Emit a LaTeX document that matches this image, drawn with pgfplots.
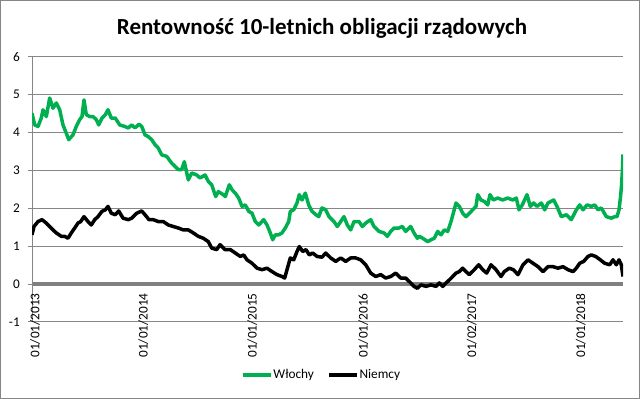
\documentclass[border=0pt]{standalone}
\usepackage{fontspec}
\setmainfont{Carlito}
\usepackage{pgfplots}
\pgfplotsset{compat=1.18}
\definecolor{zielony}{RGB}{0,176,80}
\definecolor{siatka}{RGB}{134,134,134}
\definecolor{os}{RGB}{128,128,128}
\newcommand{\fs}{\fontsize{13.3bp}{16bp}\selectfont}
\begin{document}
\begin{tikzpicture}
\useasboundingbox (0,0) rectangle (640bp,399bp);
\fill[white] (0,0) rectangle (640bp,399bp);
\draw[siatka, line width=1bp] (0.5bp,0.5bp) rectangle (639.5bp,398.5bp);
\node[font=\bfseries\fontsize{23bp}{27bp}\selectfont] at (322bp,371bp) {Rentowność 10-letnich obligacji rządowych};
\begin{axis}[
  at={(32bp,77bp)}, anchor=south west,
  scale only axis, width=591bp, height=265.3bp,
  xmin=0, xmax=591, ymin=-1, ymax=6,
  axis x line*=middle, axis y line*=left,
  hide obscured x ticks=false, hide obscured y ticks=false,
  x axis line style={line width=4.5bp, color=os},
  y axis line style={line width=1bp, color=siatka},
  ytick={-1,0,1,2,3,4,5,6}, yticklabels={-1,0,1,2,3,4,5,6},
  ymajorgrids, major grid style={siatka, line width=1bp},
  ytick style={siatka, line width=1bp},
  tick align=outside, major tick length=4bp,
  xtick={3,111.3,220.3,331.3,439.7,548.7},
  xticklabels={01/01/2013,01/01/2014,01/01/2015,01/01/2016,01/02/2017,01/01/2018},
  xtick style={draw=none},
  x tick label style={rotate=90, anchor=east, font=\fs, inner sep=0pt},
  xticklabel shift=5bp,
  y tick label style={font=\fs, inner sep=0pt, anchor=east},
  yticklabel shift=8bp,
  legend style={at={(rel axis cs:0.489,-0.2)}, anchor=center, draw=none, fill=none,
    legend columns=2, font=\fs, /tikz/every even column/.append style={column sep=12bp},
    nodes={inner sep=1bp}},
  legend image code/.code={\draw[#1] (0bp,0bp) -- (28bp,0bp);},
]
\addplot[zielony, line width=3.5bp, line join=round] coordinates {
(0,4.51)(2.7,4.20)(6,4.16)(9.3,4.38)(11,4.60)(14.3,4.42)(17.7,4.91)(21,4.64)(24.3,4.78)(27.7,4.60)
(31,4.20)(34.3,3.98)(36.7,3.81)(41,3.94)(44.3,4.16)(47.7,4.34)(50,4.42)(52,4.86)(54.3,4.47)(57.7,4.42)
(61,4.42)(64.3,4.34)(66.7,4.20)(70,4.38)(73.3,4.47)(76,4.60)(79.3,4.38)(83.3,4.38)(87.7,4.20)(92.7,4.16)
(96.3,4.12)(99.7,4.20)(103,4.12)(107,4.22)(109.7,4.16)(113,3.94)(116.3,3.89)(119.7,3.81)(123,3.68)(126.3,3.59)
(129.7,3.41)(134.7,3.37)(139.7,3.19)(146.3,3.02)(149.7,3.02)(152.3,3.23)(156.3,2.75)(159.7,2.93)(164.7,2.88)(168,2.80)
(173,2.88)(176.3,2.71)(179.7,2.62)(183.7,2.31)(186.3,2.44)(191.3,2.36)(193.3,2.31)(197.3,2.62)(200,2.49)(203.3,2.40)
(206.7,2.27)(210,2.05)(213.3,2.09)(216.7,1.92)(220,1.87)(223.3,1.65)(226.7,1.56)(231.7,1.70)(235,1.56)(238.3,1.35)
(240.7,1.17)(243.3,1.30)(246.7,1.30)(250,1.35)(253.3,1.48)(256.7,1.65)(258.3,1.92)(261.7,1.96)(265,2.14)(267.3,2.36)
(270,2.22)(273.3,2.40)(276.7,2.09)(280,1.92)(284,1.83)(286.7,1.78)(290,2.01)(293.7,1.96)(297,1.78)(302,1.65)
(305.3,1.52)(308.7,1.65)(312,1.78)(315.3,1.56)(318.7,1.43)(322,1.65)(327,1.65)(330.3,1.52)(333.7,1.61)(338.7,1.70)
(342,1.52)(347,1.39)(352,1.35)(355.3,1.26)(358.7,1.39)(362,1.48)(367,1.48)(370.3,1.52)(373.7,1.39)(378.7,1.52)
(382,1.35)(385.3,1.21)(387.3,1.26)(390.7,1.21)(395.7,1.12)(399,1.17)(402.3,1.21)(405.7,1.39)(409,1.30)(412.3,1.43)
(415.7,1.39)(419,1.65)(421.3,1.87)(424,2.14)(427.3,2.05)(430.7,1.87)(434,1.78)(437.3,1.87)(440.7,1.96)(444,2.05)
(445.7,2.36)(449,2.22)(452.3,2.18)(455.7,2.09)(458,2.36)(461.3,2.22)(465.7,2.27)(470.7,2.22)(475.7,2.27)(480.7,2.22)
(484.3,2.27)(487,1.96)(490.3,2.09)(495,2.36)(498.3,2.05)(501.7,2.14)(505,2.05)(509.3,2.14)(512.7,1.96)(516,2.14)
(521.7,2.22)(525,2.05)(529.3,1.78)(534.3,1.83)(539.3,1.70)(544.3,1.96)(547.7,2.09)(551,1.96)(555,2.09)(559.3,2.05)
(562.7,2.09)(566,1.96)(569.3,2.01)(574.3,1.78)(579.3,1.74)(582.7,1.78)(585,1.78)(587,1.96)(588.5,2.30)(589.5,2.60)
(590.3,2.95)(591,3.42)
};
\addlegendentry{Włochy}
\addplot[black, line width=3.5bp, line join=round] coordinates {
(0,1.30)(2,1.52)(6,1.65)(10,1.70)(14.3,1.61)(17.7,1.52)(21,1.43)(24.3,1.35)(29.3,1.26)(32.7,1.26)
(36,1.21)(39.3,1.35)(42.7,1.48)(46,1.61)(48.7,1.65)(52,1.78)(56,1.65)(59.3,1.56)(62.7,1.70)(66,1.78)
(70,1.92)(73.3,1.96)(76,2.05)(79.3,1.87)(83.3,1.83)(86.7,1.93)(91,1.74)(96.3,1.70)(99.7,1.74)(104.7,1.87)
(109.7,1.93)(113,1.83)(117,1.70)(121.3,1.70)(126.3,1.65)(131.3,1.65)(136.3,1.56)(141.3,1.52)(146.3,1.48)(151.3,1.43)
(156.3,1.43)(161.3,1.35)(166.3,1.26)(171.3,1.21)(176.3,1.12)(179.7,0.95)(184.7,0.91)(188,1.04)(193,0.91)(198.3,0.91)
(203.3,0.82)(208.3,0.73)(211.7,0.77)(215,0.64)(220,0.55)(225,0.42)(230,0.38)(235,0.42)(240,0.33)(245,0.25)
(250,0.20)(252.7,0.16)(255,0.38)(258.3,0.69)(261.7,0.64)(265,0.86)(267.3,0.99)(270.7,0.86)(274,0.91)(277.3,0.77)
(280.7,0.82)(285,0.73)(290,0.71)(293.7,0.82)(298.7,0.69)(303.7,0.60)(308.7,0.69)(313.7,0.60)(318.7,0.69)(323.7,0.69)
(328.7,0.64)(333.7,0.51)(338.7,0.29)(343.7,0.20)(348.7,0.25)(353.7,0.16)(358.7,0.20)(363.7,0.29)(368.7,0.16)(373.7,0.16)
(378.7,0.03)(382,-0.06)(385.3,-0.11)(389,-0.02)(394,-0.06)(399,-0.02)(404,-0.06)(407.3,0.03)(410.7,-0.06)(414,0.03)
(417.3,0.11)(420.7,0.20)(424,0.29)(427.3,0.33)(430.7,0.42)(434,0.33)(437.3,0.25)(442.3,0.38)(446.7,0.51)(450.7,0.38)
(454.7,0.29)(459,0.51)(464,0.38)(469,0.20)(472.3,0.33)(477.3,0.42)(481.3,0.38)(486,0.25)(491,0.51)(496,0.64)
(501,0.55)(506,0.46)(511,0.33)(516,0.46)(521,0.46)(526,0.42)(531,0.46)(536,0.38)(541,0.33)(544.3,0.42)
(547.7,0.55)(551.7,0.60)(556,0.73)(559.3,0.77)(563.7,0.73)(568.3,0.64)(572.7,0.55)(577.7,0.51)(581,0.64)(584.3,0.51)
(587,0.64)(589.3,0.51)(591,0.20)
};
\addlegendentry{Niemcy}
\end{axis}
\end{tikzpicture}
\end{document}
